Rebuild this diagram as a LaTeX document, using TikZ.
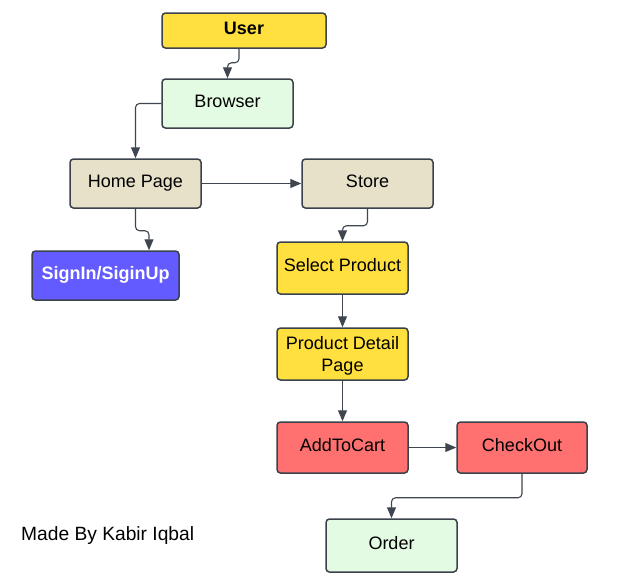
\documentclass[tikz,border=0pt]{standalone}
\usepackage{fontspec}
\setmainfont{Liberation Sans}
\usetikzlibrary{arrows.meta,calc}
\definecolor{cyellow}{HTML}{FFE03E}
\definecolor{cgreen}{HTML}{E3FAE3}
\definecolor{cbeige}{HTML}{E7E1CA}
\definecolor{cpurple}{HTML}{635BFF}
\definecolor{cred}{HTML}{FF7070}
\definecolor{cborder}{HTML}{3B424C}
\definecolor{cline}{HTML}{3F4650}
\tikzset{
  box/.style={draw=cborder, line width=1.5pt, rounded corners=3.5pt, inner sep=0pt,
    align=center, font=\fontsize{18}{22}\selectfont, text=black},
  oneline/.style={text height=12.5pt, text depth=5pt},
  arr/.style={draw=cline, line width=1.1pt, rounded corners=4pt,
    -{Triangle[length=11pt,width=9pt]}},
}
\begin{document}
\begin{tikzpicture}[x=1pt,y=-1pt]
\useasboundingbox (0,0) rectangle (626,579);
\fill[white] (0,0) rectangle (626,579);
\node[box, oneline, fill=cyellow, minimum width=164pt, minimum height=35pt, font=\fontsize{18}{22}\selectfont\bfseries] (user) at (244,30.5) {User};
\node[box, oneline, fill=cgreen, minimum width=131pt, minimum height=49pt] (browser) at (227.5,103.5) {Browser};
\node[box, oneline, fill=cbeige, minimum width=131pt, minimum height=49pt] (home) at (135.5,183.5) {Home Page};
\node[box, oneline, fill=cpurple, minimum width=147pt, minimum height=49pt, text=white, font=\fontsize{18}{22}\selectfont\bfseries] (signin) at (105.5,275.5) {SignIn/SiginUp};
\node[box, oneline, fill=cbeige, minimum width=131pt, minimum height=49pt] (store) at (367.5,183.5) {Store};
\node[box, oneline, fill=cyellow, minimum width=131pt, minimum height=52pt] (select) at (342.5,268) {Select Product};
\node[box, fill=cyellow, minimum width=131pt, minimum height=52pt, text depth=0pt] (pdp) at (342.5,354) {Product Detail\\Page};
\node[box, oneline, fill=cred, minimum width=131pt, minimum height=51pt] (cart) at (342.5,447.5) {AddToCart};
\node[box, oneline, fill=cred, minimum width=130pt, minimum height=51pt] (checkout) at (522,447.5) {CheckOut};
\node[box, oneline, fill=cgreen, minimum width=131pt, minimum height=53pt] (order) at (391.5,545.5) {Order};
\node[anchor=west, inner sep=0pt, font=\fontsize{19.2}{22}\selectfont] (made) at (21,536) {Made By Kabir Iqbal};

\draw[arr] ($(user.south)+(-5,0)$) -- ++(0,14) -| (browser.north);
\draw[arr] (browser.west) -| (home.north);
\draw[arr] (home.east) -- (store.west);
\draw[arr] (home.south) -- ++(0,22) -| ($(signin.north)+(43.5,0)$);
\draw[arr] (store.south) -- ++(0,17) -| (select.north);
\draw[arr] (select.south) -- (pdp.north);
\draw[arr] (pdp.south) -- (cart.north);
\draw[arr] (cart.east) -- (checkout.west);
\draw[arr] (checkout.south) -- ++(0,24) -| (order.north);
\end{tikzpicture}
\end{document}
